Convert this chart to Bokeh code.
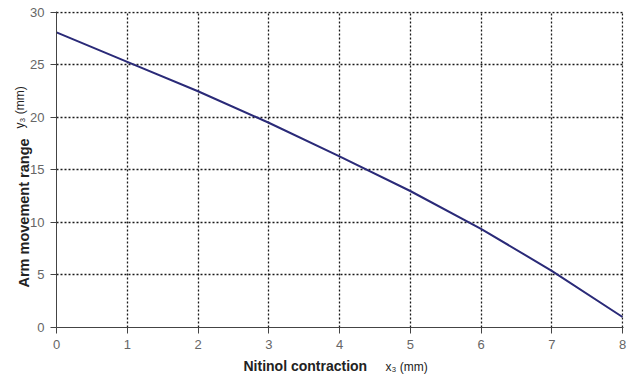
import math
from bokeh.plotting import figure
from bokeh.models import Label, Range1d, FixedTicker
from bokeh.embed import file_html
from bokeh.resources import INLINE

# Arm movement range versus nitinol contraction
contraction_mm = [0, 1, 2, 3, 4, 5, 6, 7, 8]
arm_range_mm = [28.1, 25.3, 22.5, 19.5, 16.3, 13.0, 9.4, 5.4, 1.0]

x_ticks = [0, 1, 2, 3, 4, 5, 6, 7, 8]
y_ticks = [0, 5, 10, 15, 20, 25, 30]

x_title = "Nitinol contraction"
x_unit = "x\u2083 (mm)"
y_title = "Arm movement range"
y_unit = "y\u2083 (mm)"

FONT = "Liberation Sans"

# ranges run a hair past the last tick so the outer grid lines are drawn
p = figure(
    frame_width=567, frame_height=316,
    min_border_left=56, min_border_right=6,
    min_border_top=11, min_border_bottom=49,
    x_range=Range1d(0, 8.014), y_range=Range1d(0, 30.095),
    output_backend="svg", toolbar_location=None,
)
p.outline_line_color = None
p.background_fill_color = "white"
p.border_fill_color = "white"

for g in (p.xgrid, p.ygrid):
    g.grid_line_color = "#1a1a1a"
    g.grid_line_dash = "2 2"
    g.grid_line_width = 1.3
p.xgrid.ticker = FixedTicker(ticks=x_ticks)
p.ygrid.ticker = FixedTicker(ticks=y_ticks)

p.line(contraction_mm, arm_range_mm, line_color="#2a2a78", line_width=2)

for ax, ticks in ((p.xaxis, x_ticks), (p.yaxis, y_ticks)):
    ax.ticker = FixedTicker(ticks=ticks)
    ax.axis_line_color = "#444444"
    ax.axis_line_width = 1
    ax.major_tick_line_color = "#444444"
    ax.major_tick_in = 0
    ax.major_tick_out = 6
    ax.minor_tick_line_color = None
    ax.major_label_text_font = FONT
    ax.major_label_text_font_size = "13px"
    ax.major_label_text_color = "#666666"
p.xaxis.major_label_standoff = 6
p.yaxis.major_label_standoff = 6

# axis titles: bold name followed by the variable in regular weight,
# placed in canvas coordinates from the bottom panel
p.add_layout(Label(x=243, y=365, x_units="canvas", y_units="canvas",
                   text=x_title, text_font=FONT, text_font_style="bold",
                   text_font_size="14px", text_color="#222222",
                   text_baseline="middle", text_align="left"), "below")
p.add_layout(Label(x=385, y=366, x_units="canvas", y_units="canvas",
                   text=x_unit, text_font=FONT, text_font_size="12px",
                   text_color="#222222", text_baseline="middle",
                   text_align="left"), "below")
p.add_layout(Label(x=23, y=287, x_units="canvas", y_units="canvas",
                   text=y_title, text_font=FONT, text_font_style="bold",
                   text_font_size="14.5px", text_color="#222222",
                   text_baseline="middle", text_align="left",
                   angle=math.pi / 2), "below")
p.add_layout(Label(x=19, y=128, x_units="canvas", y_units="canvas",
                   text=y_unit, text_font=FONT, text_font_size="12px",
                   text_color="#222222", text_baseline="middle",
                   text_align="left", angle=math.pi / 2), "below")

open("out.html", "w").write(file_html(p, INLINE))
